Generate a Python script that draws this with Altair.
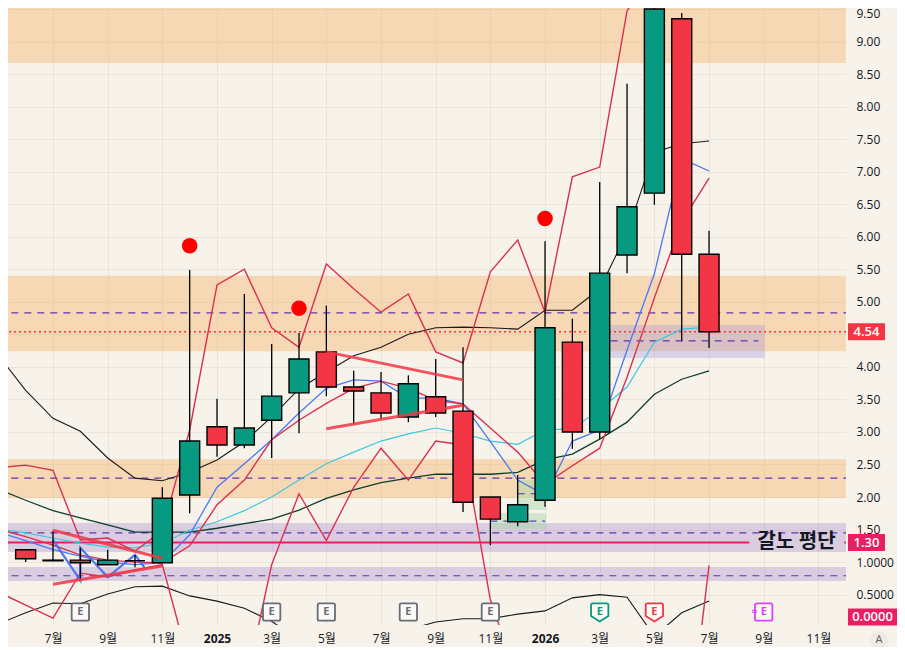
import altair as alt
import pandas as pd

# Month index 0 is 2024-07, candles run from 2024-06 to 2026-07
tick_idx = [0, 2, 4, 6, 8, 10, 12, 14, 16, 18, 20, 22, 24, 26, 28]
tick_labels = ["7월", "9월", "11월", "2025", "3월", "5월", "7월", "9월", "11월", "2026", "3월", "5월", "7월", "9월", "11월"]
price_ticks = [0.5, 1, 1.5, 2, 2.5, 3, 3.5, 4, 4.5, 5, 5.5, 6, 6.5, 7, 7.5, 8, 8.5, 9, 9.5]

candle_idx = list(range(-1, 25))
opens = [1.19, 1.03, 1.03, 0.96, 1.02, 0.99, 2.03, 3.08, 2.80, 3.18, 3.60, 4.23, 3.69, 3.60, 3.23, 3.54, 3.32, 2.00, 1.62, 1.95, 4.38, 3.00, 5.72, 6.67, 9.35, 5.73]
highs = [1.19, 1.48, 1.22, 1.19, 1.11, 2.15, 5.49, 3.51, 5.12, 4.35, 4.52, 4.94, 3.94, 3.92, 3.87, 4.12, 4.30, 2.00, 2.34, 5.93, 4.74, 6.84, 8.35, 9.70, 9.44, 6.09]
lows = [1.00, 1.02, 0.74, 0.96, 0.92, 0.99, 1.75, 2.62, 2.75, 2.60, 2.98, 3.55, 3.12, 3.20, 3.15, 3.23, 1.77, 1.26, 1.55, 1.85, 2.74, 2.89, 5.44, 6.49, 4.40, 4.29]
closes = [1.05, 1.02, 0.99, 1.03, 1.02, 1.98, 2.86, 2.80, 3.06, 3.55, 4.12, 3.69, 3.63, 3.29, 3.74, 3.29, 1.92, 1.66, 1.88, 4.60, 3.00, 5.44, 6.46, 9.50, 5.73, 4.54]

line_idx = list(range(-2, 25))
osc_upper = [2.45, 2.49, 2.41, 1.34, 1.37, 1.17, 1.48, 3.03, 5.26, 5.50, 4.60, 4.30, 5.58, 5.20, 4.84, 5.12, 4.23, 4.06, 5.46, 5.95, 4.84, 6.92, 7.07, 9.47, 10.15, None, None]
osc_lower = [0.54, 0.34, 0.14, 0.83, 0.77, 0.88, 0.96, -0.60, -0.81, -0.98, 0.96, 2.05, 1.33, 2.15, 2.75, 2.26, 2.86, 2.80, 0.42, -0.81, None, None, None, None, None, -2.55, 0.95]
osc_black = [0.05, 0.22, 0.37, 0.36, 0.51, 0.62, 0.63, 0.48, 0.40, 0.29, 0.09, -0.20, None, None, None, -0.04, 0.08, 0.13, 0.13, 0.20, 0.25, 0.45, 0.50, 0.46, -0.14, 0.22, 0.40]
ma_red = [1.51, 1.39, 1.26, 1.11, 1.03, 1.00, 0.99, 1.25, 1.88, 2.26, 2.88, 3.18, 3.44, 3.67, 3.78, 3.67, 3.49, 3.43, 3.06, 2.69, 2.20, 2.48, 2.75, 3.84, 5.06, 6.23, 6.90]
ma_blue = [1.46, 1.33, 1.19, 1.09, 1.00, 0.96, 0.99, 1.42, 2.15, 2.51, 2.88, 3.29, 3.67, 3.80, 3.78, 3.52, 3.52, 3.43, 2.85, 2.26, 2.03, 2.86, 3.03, 4.26, 5.43, 7.20, 7.01]
ma_black = [4.18, 3.64, 3.21, 3.01, 2.60, 2.29, 2.25, 2.38, 2.57, 2.85, 3.23, 3.66, 3.92, 4.17, 4.30, 4.50, 4.60, 4.61, 4.60, 4.58, 4.87, 4.87, 5.20, 6.06, 7.30, 7.43, 7.47]
ma_cyan = [1.51, 1.45, 1.37, 1.29, 1.23, 1.22, 1.29, 1.49, 1.62, 1.79, 2.00, 2.26, 2.51, 2.69, 2.86, 2.97, 3.06, 2.98, 2.86, 2.81, 3.03, 3.05, 3.34, 3.69, 4.38, 4.58, 4.61]
ma_green = [2.12, 1.95, 1.79, 1.68, 1.57, 1.46, 1.46, 1.46, 1.52, 1.59, 1.66, 1.80, 1.98, 2.11, 2.22, 2.29, 2.35, 2.35, 2.35, 2.38, 2.57, 2.66, 2.89, 3.15, 3.58, 3.81, 3.94]

zig_idx = [0, 1, 1, 2, 3, 3.34]
zig_vals = [1.34, 0.72, 1.22, 0.77, 1.11, 0.92]

# trend lines: from idx, to idx, from price, to price
trend_x = [0, 0, 10, 10]
trend_x2 = [4, 4, 15, 15]
trend_y = [1.49, 0.66, 4.23, 3.05]
trend_y2 = [1.06, 0.94, 3.80, 3.41]

orange_lo = [8.67, 4.24, 1.985]
orange_hi = [9.80, 5.40, 2.58]
purple_lo = [1.155, 0.71]
purple_hi = [1.60, 0.924]
level_lines = [4.83, 2.29, 1.45, 0.79]

signal_idx = [5, 9, 18]
signal_vals = [5.86, 4.90, 6.28]

earn_sq_idx = [1, 8, 10, 13, 16, 26]
earn_sq_col = ["#6a6d78", "#6a6d78", "#6a6d78", "#6a6d78", "#6a6d78", "#e040fb"]
earn_pent_idx = [20, 22]
earn_pent_col = ["#089981", "#f23645"]

BG = "#f7f3eb"
RED = "#f23645"
TEAL = "#089981"
PINK = "#e91e63"
LINE_RED = "#d9304f"
FONT = "Open Sans, Noto Sans CJK KR"

x_scale = alt.Scale(domain=[-1.646, 29.01], nice=False, zero=False, padding=0)
y_scale = alt.Scale(domain=[0.033, 9.515], nice=False, zero=False, padding=0)

x_axis = alt.Axis(
    values=tick_idx,
    labelExpr="[" + ",".join(f"'{t}'" for t in tick_labels) + "][datum.value / 2]",
    labelFontWeight={"condition": {"test": "datum.value == 6 || datum.value == 18", "value": "bold"}, "value": "normal"},
    grid=True, gridColor="#e9e5dc", domain=False, ticks=False,
    labelPadding=8, labelFont=FONT, labelFontSize=12, labelColor="#131722", labelFlush=False, labelOverlap=False,
)
# 4.50 is covered by the last price tag, 9.50 sits right at the top edge
y_axis = alt.Axis(
    orient="right", values=price_ticks,
    labelExpr="datum.value == 4.5 ? '' : datum.value <= 1 ? format(datum.value, '.4f') : format(datum.value, '.2f')",
    labelBaseline={"condition": {"test": "datum.value == 9.5", "value": "top"}, "value": "middle"},
    grid=True, gridColor="#e9e5dc", domain=False, ticks=False,
    labelPadding=10, labelFont=FONT, labelFontSize=12, labelColor="#131722", labelOverlap=False,
)


def X(field):
    return alt.X(f"{field}:Q", scale=x_scale, axis=x_axis, title=None)


def Y(field):
    return alt.Y(f"{field}:Q", scale=y_scale, axis=y_axis, title=None)


df_orange = pd.DataFrame({"lo": orange_lo, "hi": orange_hi, "a": -2, "b": 29.01})
df_purple = pd.DataFrame({"lo": purple_lo, "hi": purple_hi, "a": -2, "b": 29.01})

orange = alt.Chart(df_orange).mark_rect(color="#f5a855", opacity=0.36, clip=True).encode(
    x=X("a"), x2="b", y=Y("lo"), y2="hi"
)
purple = alt.Chart(df_purple).mark_rect(color="#8e6cc4", opacity=0.28, clip=True).encode(
    x=X("a"), x2="b", y=Y("lo"), y2="hi"
)
box = alt.Chart(pd.DataFrame({"a": [20.35], "b": [25.98], "lo": [4.16], "hi": [4.62]})).mark_rect(
    color="#9a8de0", opacity=0.3, stroke="#9a8de0", strokeWidth=3, clip=True
).encode(x=X("a"), x2="b", y=Y("lo"), y2="hi")
green_box = alt.Chart(pd.DataFrame({"a": [17, 16], "b": [18.05, 18.05], "lo": [1.80, 1.51], "hi": [2.26, 1.75]})).mark_rect(
    color="#a5d6a7", opacity=0.45, clip=True
).encode(x=X("a"), x2="b", y=Y("lo"), y2="hi")

df_levels = pd.DataFrame({"v": level_lines, "a": -2, "b": 29.01})
dashes = alt.Chart(df_levels).mark_rule(color="#5e35b1", strokeDash=[7, 6], strokeWidth=1.2, clip=True).encode(
    x=X("a"), x2="b", y=Y("v")
)
df_short = pd.DataFrame({"v": [4.40, 2.05, 1.63], "a": [20.4, 17, 16], "b": [25.8, 18, 18]})
short_dashes = alt.Chart(df_short).mark_rule(color="#5e35b1", strokeDash=[7, 6], strokeWidth=1.2, clip=True).encode(
    x=X("a"), x2="b", y=Y("v")
)
price_line = alt.Chart(pd.DataFrame({"v": [4.54]})).mark_rule(color="#ff2d3f", strokeDash=[2, 3], strokeWidth=1.3).encode(y=Y("v"))
avg_line = alt.Chart(pd.DataFrame({"v": [1.30, 1.30], "a": [-2, 28.95], "b": [25.47, 29.01]})).mark_rule(
    color=PINK, strokeWidth=2, clip=True
).encode(x=X("a"), x2="b", y=Y("v"))


def series_line(values, color, width=1.3):
    df = pd.DataFrame({"idx": line_idx, "v": values}).dropna()
    return alt.Chart(df).mark_line(color=color, strokeWidth=width, clip=True).encode(x=X("idx"), y=Y("v"))


lines = [
    series_line(ma_green, "#0b3d2e", 1.3),
    series_line(ma_black, "#1a1a1a", 1.1),
    series_line(ma_cyan, "#3cc8dc", 1.2),
    series_line(ma_blue, "#4a78f5", 1.3),
    series_line(ma_red, LINE_RED, 1.4),
    series_line(osc_upper, LINE_RED, 1.4),
    series_line(osc_black, "#1a1a1a", 1.1),
    series_line(osc_lower, LINE_RED, 1.4),
]

zig = alt.Chart(pd.DataFrame({"idx": zig_idx, "v": zig_vals, "o": range(len(zig_idx))})).mark_line(
    color="#3b6ef5", strokeWidth=2.2, opacity=0.9, clip=True
).encode(x=X("idx"), y=Y("v"), order="o:Q")

df_candle = pd.DataFrame({"idx": candle_idx, "o": opens, "h": highs, "l": lows, "c": closes})
df_candle["color"] = [TEAL if c > o else RED for o, c in zip(opens, closes)]

wicks = alt.Chart(df_candle).mark_rule(color="black", strokeWidth=1.3, clip=True).encode(
    x=X("idx"), y=Y("l"), y2="h"
)
bodies = alt.Chart(df_candle).mark_bar(size=20, stroke="black", strokeWidth=1.4, clip=True, orient="vertical").encode(
    x=X("idx"), y=Y("o"), y2="c", color=alt.Color("color:N", scale=None, legend=None)
)

trend_rows = []
for n, (a, b, p, q) in enumerate(zip(trend_x, trend_x2, trend_y, trend_y2)):
    trend_rows += [{"n": n, "idx": a, "v": p}, {"n": n, "idx": b, "v": q}]
trends = alt.Chart(pd.DataFrame(trend_rows)).mark_line(color=RED, strokeWidth=3, opacity=0.85, clip=True).encode(
    x=X("idx"), y=Y("v"), detail="n:N"
)

signals = alt.Chart(pd.DataFrame({"idx": signal_idx, "v": signal_vals})).mark_point(
    shape="circle", filled=True, color="#ff0000", opacity=1, size=240
).encode(x=X("idx"), y=Y("v"))

# earnings flags sit on a fixed strip near the bottom of the pane
SQUARE = "M-0.8,-1 H0.8 Q1,-1 1,-0.8 V0.8 Q1,1 0.8,1 H-0.8 Q-1,1 -1,0.8 V-0.8 Q-1,-1 -0.8,-1 Z"
PENT = "M-0.8,-1 H0.8 Q1,-1 1,-0.8 V0.45 L0,1.1 L-1,0.45 V-0.8 Q-1,-1 -0.8,-1 Z"
df_sq = pd.DataFrame({"idx": earn_sq_idx, "col": earn_sq_col})
df_pent = pd.DataFrame({"idx": earn_pent_idx, "col": earn_pent_col})


def flag_marks(df, path):
    sym = alt.Chart(df).mark_point(shape=path, size=300, filled=True, fill="#fbfaf7", strokeWidth=1.8, opacity=1).encode(
        x=X("idx"), y=alt.value(604), stroke=alt.Color("col:N", scale=None, legend=None)
    )
    txt = alt.Chart(df).mark_text(text="E", fontWeight="bold", fontSize=11, font=FONT).encode(
        x=X("idx"), y=alt.value(604), color=alt.Color("col:N", scale=None, legend=None)
    )
    return sym + txt


wave = alt.Chart(pd.DataFrame({"idx": [26]})).mark_text(
    text="≈", dx=-9, fontSize=10, fontWeight="bold", color="#e040fb", font=FONT
).encode(x=X("idx"), y=alt.value(604))

avg_text = alt.Chart(pd.DataFrame({"idx": [27.2], "v": [1.31], "t": ["갈노 평단"]})).mark_text(
    font="Noto Sans CJK KR", fontSize=20, fontWeight="bold", color="#131722"
).encode(x=X("idx"), y=Y("v"), text="t:N")

tag_vals = [4.54, 1.30, 0.156]
tag_text = ["4.54", "1.30", "0.0000"]
tag_cols = [RED, PINK, PINK]
tag_end = [877, 877, 889]
tag_mid = [858.5, 858.5, 864.5]


def tag(i):
    df = pd.DataFrame({"v": [tag_vals[i]], "t": [tag_text[i]]})
    bg = alt.Chart(df).mark_rule(color=tag_cols[i], strokeWidth=17).encode(
        x=alt.value(840), x2=alt.value(tag_end[i]), y=Y("v")
    )
    fg = alt.Chart(df).mark_text(color="white", font=FONT, fontSize=13, fontWeight=600).encode(
        x=alt.value(tag_mid[i]), y=Y("v"), text="t:N"
    )
    return bg + fg


a_circle = alt.Chart(pd.DataFrame({"t": ["A"]})).mark_point(
    shape="circle", filled=True, color="#efeae2", opacity=1, size=340
).encode(x=alt.value(871), y=alt.value(632))
a_text = alt.Chart(pd.DataFrame({"t": ["A"]})).mark_text(font=FONT, fontSize=11, color="#5d606b").encode(
    x=alt.value(871), y=alt.value(632), text="t:N"
)

chart = alt.layer(
    orange, purple, box, green_box, dashes, short_dashes, price_line, avg_line,
    *lines, zig, wicks, bodies, trends, signals,
    flag_marks(df_sq, SQUARE), flag_marks(df_pent, PENT), wave, avg_text,
    tag(0), tag(1), tag(2), a_circle, a_text,
).properties(
    width=838,
    height=617,
    background=BG,
    padding={"left": 0, "top": 0, "right": 51, "bottom": 22},
    autosize=alt.AutoSizeParams(type="none"),
).configure_view(stroke=None)

chart.save("out.html", embed_options={"renderer": "svg", "actions": False})
